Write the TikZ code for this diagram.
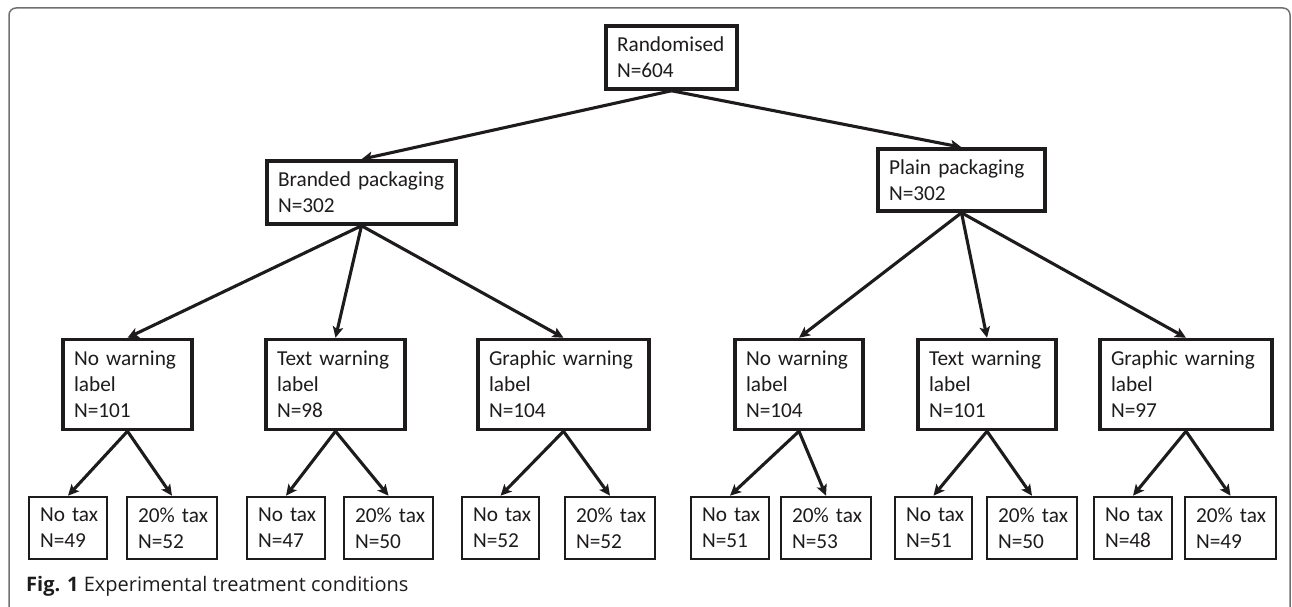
\documentclass[tikz,border=0pt]{standalone}
\usepackage{fontspec}
\setmainfont{Carlito}
\newfontfamily\capfont{Open Sans}
\usetikzlibrary{arrows.meta}
\definecolor{ink}{HTML}{1E1B1C}
\definecolor{framegray}{HTML}{707070}
\begin{document}
\hyphenpenalty=10000
\exhyphenpenalty=10000
\begin{tikzpicture}[x=1pt,y=-1pt,
  box/.style={draw=ink, line width=3.5pt, inner xsep=11pt, inner ysep=0pt, align=left,
     text=ink, font=\fontsize{21.3}{26}\selectfont},
  leaf/.style={box, line width=2.6pt},
  arr/.style={draw=ink, line width=3.1pt, -{Stealth[length=11pt,width=10.5pt,inset=2.5pt]}},
]
\useasboundingbox (0,0) rectangle (1292,607);
\draw[framegray, line width=1.5pt, rounded corners=7pt] (9,8) rectangle (1290,616);

% top
\node[box, minimum width=131pt, minimum height=63pt, text width=109pt] (rand) at (671.5,57.5) {Randomised\\N=604};
\node[box, minimum width=189pt, minimum height=63pt, text width=167pt] (brand) at (361.5,192.5) {Branded~packaging\\N=302};
\node[box, minimum width=167pt, minimum height=62pt, text width=145pt] (plain) at (961.5,180) {Plain~packaging\\N=302};

% level 3
\node[box, minimum width=129pt, minimum height=90pt, text width=107pt] (nw1) at (127.5,384.5) {No~warning\\label\\N=101};
\node[box, minimum width=139pt, minimum height=90pt, text width=117pt] (tw1) at (335.5,384.5) {Text~warning\\label\\N=98};
\node[box, minimum width=171pt, minimum height=90pt, text width=149pt] (gw1) at (563.5,384.5) {Graphic~warning\\label\\N=104};
\node[box, minimum width=128pt, minimum height=90pt, text width=106pt] (nw2) at (799,384.5) {No~warning\\label\\N=104};
\node[box, minimum width=138pt, minimum height=90pt, text width=116pt] (tw2) at (987,384.5) {Text~warning\\label\\N=101};
\node[box, minimum width=172pt, minimum height=90pt, text width=150pt] (gw2) at (1186,384.5) {Graphic~warning\\label\\N=97};

% leaves
\node[leaf, minimum width=78pt, minimum height=62pt, text width=56pt] (nt1) at (68,528) {No~tax\\N=49};
\node[leaf, minimum width=90pt, minimum height=62pt, text width=68pt] (tt1) at (172,528) {20\%~tax\\N=52};
\node[leaf, minimum width=78pt, minimum height=62pt, text width=56pt] (nt2) at (286,528) {No~tax\\N=47};
\node[leaf, minimum width=89pt, minimum height=62pt, text width=67pt] (tt2) at (388.5,528) {20\%~tax\\N=50};
\node[leaf, minimum width=77pt, minimum height=62pt, text width=55pt] (nt3) at (500.5,528) {No~tax\\N=52};
\node[leaf, minimum width=90pt, minimum height=62pt, text width=68pt] (tt3) at (610,528) {20\%~tax\\N=52};
\node[leaf, minimum width=78pt, minimum height=62pt, text width=56pt] (nt4) at (730,528) {No~tax\\N=51};
\node[leaf, minimum width=90pt, minimum height=62pt, text width=68pt] (tt4) at (826,528) {20\%~tax\\N=53};
\node[leaf, minimum width=77pt, minimum height=62pt, text width=55pt] (nt5) at (933.5,528) {No~tax\\N=51};
\node[leaf, minimum width=90pt, minimum height=62pt, text width=68pt] (tt5) at (1032,528) {20\%~tax\\N=50};
\node[leaf, minimum width=78pt, minimum height=62pt, text width=56pt] (nt6) at (1133,528) {No~tax\\N=48};
\node[leaf, minimum width=91pt, minimum height=62pt, text width=69pt] (tt6) at (1230.5,528) {20\%~tax\\N=49};

% connectors
\draw[arr] (rand.south) -- (brand.north);
\draw[arr] (rand.south) -- (plain.north);
\draw[arr] (brand.south) -- (nw1.north);
\draw[arr] (brand.south) -- (tw1.north);
\draw[arr] (brand.south) -- (gw1.north);
\draw[arr] (plain.south) -- (nw2.north);
\draw[arr] (plain.south) -- (tw2.north);
\draw[arr] (plain.south) -- (gw2.north);

\draw[arr] (nw1.south) -- (nt1.north);
\draw[arr] (nw1.south) -- (tt1.north);
\draw[arr] (tw1.south) -- (nt2.north);
\draw[arr] (tw1.south) -- (tt2.north);
\draw[arr] (gw1.south) -- (nt3.north);
\draw[arr] (gw1.south) -- (tt3.north);
\draw[arr] (nw2.south) -- (nt4.north);
\draw[arr] (nw2.south) -- (tt4.north);
\draw[arr] (tw2.south) -- (nt5.north);
\draw[arr] (tw2.south) -- (tt5.north);
\draw[arr] (gw2.south) -- (nt6.north);
\draw[arr] (gw2.south) -- (tt6.north);

% caption
\node[anchor=base west, inner sep=0pt, text=ink, font=\capfont\fontsize{20}{24}\selectfont] (cap) at (26,591)
  {\textbf{Fig. 1} Experimental treatment conditions};
\end{tikzpicture}
\end{document}
